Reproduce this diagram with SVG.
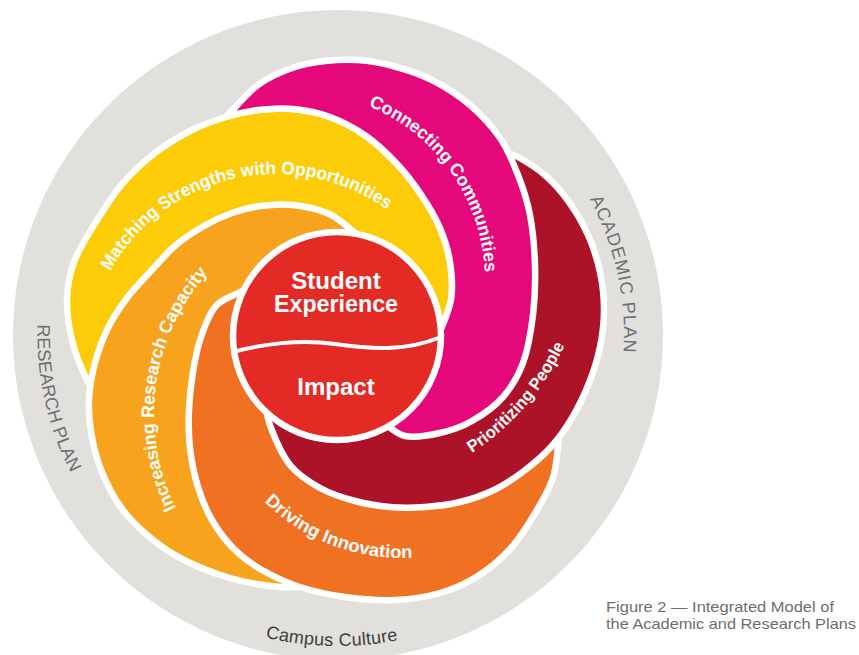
<svg xmlns="http://www.w3.org/2000/svg" width="859" height="655" viewBox="0 0 859 655">
  <style>
    .arm { stroke: #ffffff; stroke-width: 6.5; stroke-linejoin: round; }
    .lbl { font-family: "Liberation Sans", Arial, sans-serif; font-weight: bold; fill: #ffffff; }
    .ring { font-family: "Liberation Sans", Arial, sans-serif; font-size: 18px; fill: #6d6e70; }
    .cap { font-family: "Liberation Sans", Arial, sans-serif; font-size: 14.5px; fill: #6d6e71; }
  </style>
  <defs>
    <path id="tp-match" d="M97.5 299 A190 190 0 0 1 410.4 229.6"/>
    <path id="tp-connect" d="M329.6 94.9 A188 188 0 0 1 482.1 312.6"/>
    <path id="tp-prior" d="M451.7 464.9 A257 257 0 0 0 573.4 323.4"/>
    <path id="tp-incr" d="M192.3 535.6 A212 212 0 0 1 230.9 250.7"/>
    <path id="tp-drive" d="M251.1 487.6 A197 197 0 0 0 431.8 555.7"/>
    <path id="tp-acad" d="M557.2 151.3 A286 286 0 0 1 614.2 409.3"/>
    <path id="tp-res" d="M47.7 257.2 A300.5 300.5 0 0 0 108.8 529.4"/>
    <path id="tp-campus" d="M176.9 601 A311 311 0 0 0 487.9 607.5"/>
  </defs>

  <!-- outer ring: campus culture -->
  <g id="ring">
    <circle cx="338" cy="335" r="325" fill="#e2e0dc"/>
    <text class="ring"><textPath href="#tp-acad" startOffset="50%" text-anchor="middle" textLength="159">ACADEMIC PLAN</textPath></text>
    <text class="ring"><textPath href="#tp-res" startOffset="50%" text-anchor="middle" textLength="154">RESEARCH PLAN</textPath></text>
    <text class="ring" style="fill:#3d3d3d"><textPath href="#tp-campus" startOffset="50%" text-anchor="middle" textLength="134">Campus Culture</textPath></text>
  </g>

  <!-- swirl arms, each tucked under the next one -->
  <g id="arm-matching">
    <path class="arm" fill="#fdcc08" d="M436 342 C441 328 448.7 313.3 451 300 S451.8 274 450 262 S444.7 239 440 228 S429 206.5 422 196 S407.3 175 398 165 S377.3 144 366 136 S342.2 121.5 330 117 S305 110.2 293 109 S269.2 108.7 258 110 S237.3 113.5 226 117 S201.8 125 190 131 S166.2 144.3 155 153 S132.8 171.5 123 183 S104.2 208.8 96 222 S78.8 249 74 262 S67.3 287 67 300 S68.8 327 72 340 S81.3 368 86 378 S95.3 392.7 100 400 L337 336 Z"/>
  </g>
  <g id="arm-increasing">
    <path class="arm" fill="#f8a31d" d="M370 246 C362.7 239.7 355.2 232.5 348 227 S336.2 216.7 327 213 S304.2 206.2 293 205 S270.2 204.7 260 206 S241.3 209.7 232 213 S213.3 220.7 204 226 S185 237.3 176 245 S158.2 263.2 150 272 S134 288.7 127 298 S113.3 317.2 108 328 S98.2 351 95 363 S89.5 387.7 89 400 S89.8 425 92 437 S97.3 460.5 102 472 S112.5 495.5 120 506 S136.7 526.2 147 535 S168.2 551.8 182 559 S213.7 573.3 230 578 S265 585.8 280 587 S306.7 585.7 320 585 L337 336 Z"/>
  </g>
  <g id="arm-driving">
    <path class="arm" fill="#f07122" d="M262 282 C253.3 286 243.8 289.8 236 294 S220.8 299.8 215 307 S204.7 326.2 201 337 S195 359.8 193 372 S189.5 397.3 189 410 S188.5 435.2 190 448 S194.3 475 198 487 S206 509.7 212 520 S225.7 540.7 234 549 S251 563.7 262 570 S286.2 582.5 300 587 S329.2 594.8 345 597 S379.2 600.7 395 600 S426.2 597 440 593 S466.2 583.5 478 576 S501.2 559 511 548 S529.8 522.3 537 510 S550.2 488.2 554 474 S558 441.3 560 425 L337 336 Z"/>
  </g>
  <g id="arm-prioritizing">
    <path class="arm" fill="#ad1328" d="M262 392 C265 404 266.3 415.8 271 428 S281.8 455 290 465 S309.2 482 320 488 S343.3 497.8 355 501 S378.3 506 390 507 S413.3 507.8 425 507 S448.5 504.8 460 502 S483.3 495.2 494 490 S514.5 478.2 524 471 S543 455.8 551 447 S565.7 428.7 572 418 S584.3 394.8 589 383 S597.5 359.2 600 347 S604 322.5 604 310 S602.7 284.5 600 272 S593.2 246.7 588 235 S576 211.8 569 202 S554.5 183.5 546 176 S525.2 161 518 157 S508 153.7 503 152 L490 250 L470 360 L337 336 Z"/>
  </g>
  <g id="arm-connecting">
    <path class="arm" fill="#e4087a" d="M380 420 C388.3 425.3 395 433.8 405 436 S428.8 435.5 440 433 S461.5 427 472 421 S494.5 406.7 503 397 S518 376.7 523 363 S531 331.3 533 315 S535.5 281.7 535 265 S532.8 230 530 215 S523 187.8 518 175 S508 149.7 500 138 S481.3 114.7 470 105 S444.8 86.5 432 80 S405.3 69.3 393 66 S369.3 60.8 358 60 S336 59.7 325 61 S303.2 64 292 68 S269 76.8 258 85 S236.7 106.3 226 117 C237.3 113.5 246.8 111.3 258 110 S281 107.8 293 109 S317.8 112.5 330 117 S354.7 128 366 136 S388.7 155 398 165 S415 185.5 422 196 S435.3 217 440 228 S448.2 250 450 262 S453.3 286.7 451 300 S441 328 436 342 Z"/>
  </g>

  <!-- centre: student experience / impact -->
  <g id="core">
    <circle cx="337" cy="336" r="104" fill="#e32a25" stroke="#ffffff" stroke-width="6.5"/>
    <path d="M233 352 C262 344 300 339 335 344 S405 352 441 337" fill="none" stroke="#ffffff" stroke-width="4"/>
    <text class="lbl" x="336" y="289" font-size="24" text-anchor="middle">Student</text>
    <text class="lbl" x="336" y="312" font-size="24" text-anchor="middle" textLength="124" lengthAdjust="spacingAndGlyphs">Experience</text>
    <text class="lbl" x="336" y="395" font-size="24" text-anchor="middle">Impact</text>
  </g>

  <!-- arm labels -->
  <g id="labels">
    <text class="lbl" font-size="18"><textPath href="#tp-match" startOffset="50%" text-anchor="middle" textLength="320" lengthAdjust="spacingAndGlyphs">Matching Strengths with Opportunities</textPath></text>
    <text class="lbl" font-size="18"><textPath href="#tp-connect" startOffset="50%" text-anchor="middle" textLength="214" lengthAdjust="spacingAndGlyphs">Connecting Communities</textPath></text>
    <text class="lbl" font-size="17"><textPath href="#tp-prior" startOffset="50%" text-anchor="middle" textLength="144" lengthAdjust="spacingAndGlyphs">Prioritizing People</textPath></text>
    <text class="lbl" font-size="18"><textPath href="#tp-incr" startOffset="50%" text-anchor="middle" textLength="252" lengthAdjust="spacingAndGlyphs">Increasing Research Capacity</textPath></text>
    <text class="lbl" font-size="18"><textPath href="#tp-drive" startOffset="50%" text-anchor="middle" textLength="163" lengthAdjust="spacingAndGlyphs">Driving Innovation</textPath></text>
  </g>

  <g id="caption">
    <text class="cap" x="606" y="612" textLength="228" lengthAdjust="spacingAndGlyphs">Figure 2 — Integrated Model of</text>
    <text class="cap" x="606" y="629" textLength="250" lengthAdjust="spacingAndGlyphs">the Academic and Research Plans</text>
  </g>
</svg>
